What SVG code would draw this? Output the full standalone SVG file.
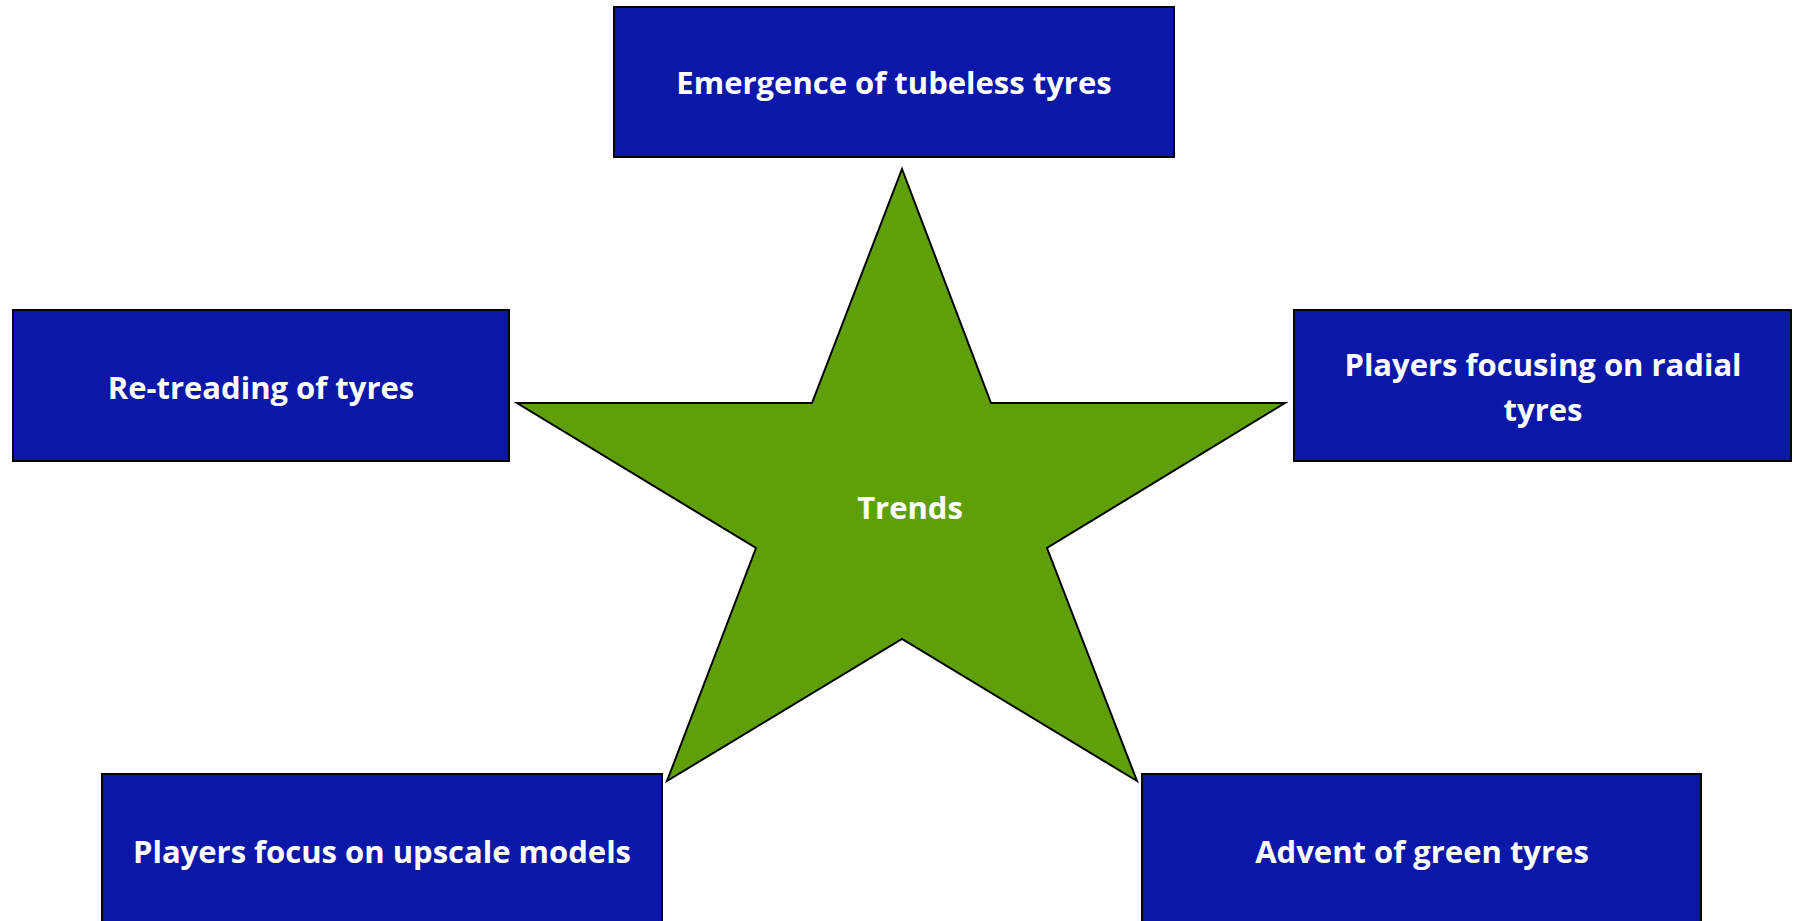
<svg xmlns="http://www.w3.org/2000/svg" width="1799" height="921" viewBox="0 0 1799 921">
<style>
.box{fill:#0B17A7;stroke:#000;stroke-width:2}
.lbl{font-family:"Open Sans","Liberation Sans",sans-serif;font-weight:bold;font-size:31px;fill:#fff;text-anchor:middle}
.star{fill:#5FA00A;stroke:#000;stroke-width:2;stroke-linejoin:miter}
</style>
<rect width="1799" height="921" fill="#fff"/>
<g id="connectors"></g>
<g id="star">
<polygon class="star" points="902,169 991,403 1285,403 1047,548 1137,781 902,639 667,781 756,548 517,403 812,403"/>
<text class="lbl" x="910" y="519">Trends</text>
</g>
<g id="top">
<rect class="box" x="614" y="7" width="560" height="150"/>
<text class="lbl" x="894" y="94">Emergence of tubeless tyres</text>
</g>
<g id="left">
<rect class="box" x="13" y="310" width="496" height="151"/>
<text class="lbl" x="261" y="399">Re-treading of tyres</text>
</g>
<g id="right">
<rect class="box" x="1294" y="310" width="497" height="151"/>
<text class="lbl" x="1543" y="376">Players focusing on radial</text>
<text class="lbl" x="1543" y="421">tyres</text>
</g>
<g id="bottomleft">
<rect class="box" x="102" y="774" width="560" height="152"/>
<text class="lbl" x="382" y="863">Players focus on upscale models</text>
</g>
<g id="bottomright">
<rect class="box" x="1142" y="774" width="559" height="152"/>
<text class="lbl" x="1422" y="863">Advent of green tyres</text>
</g>
</svg>
